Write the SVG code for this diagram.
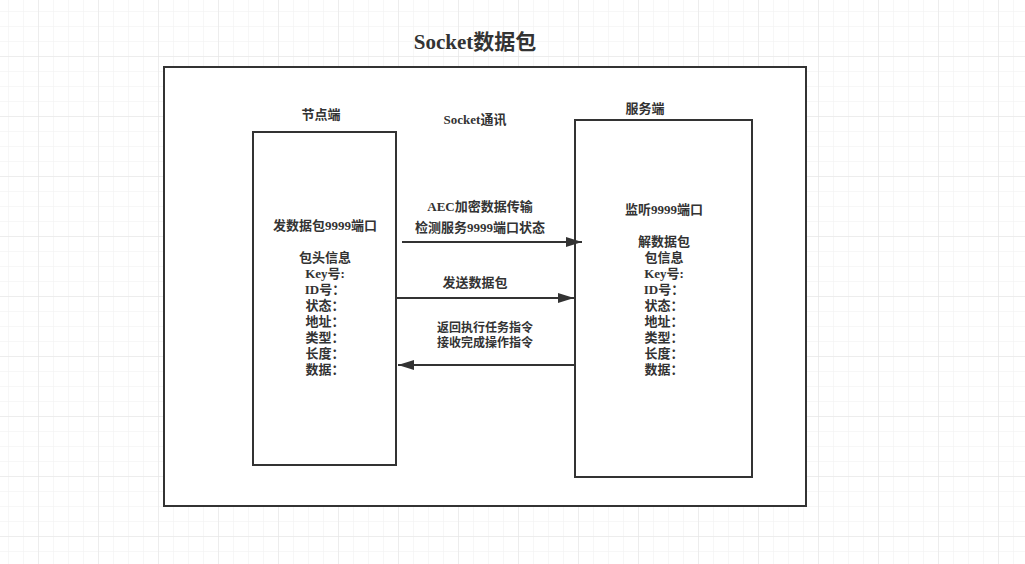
<svg xmlns="http://www.w3.org/2000/svg" width="1025" height="564" viewBox="0 0 1025 564">
<defs>
<pattern id="minor" x="8" y="11" width="15" height="15" patternUnits="userSpaceOnUse">
<path d="M0 0H15M0 0V15" fill="none" stroke="#f0f0f0" stroke-width="1"/>
</pattern>
<pattern id="major" x="38" y="56" width="60" height="60" patternUnits="userSpaceOnUse">
<path d="M0 0H60M0 0V60" fill="none" stroke="#e4e4e4" stroke-width="1"/>
</pattern>
<marker id="ah" markerWidth="16" markerHeight="10" refX="16" refY="5" orient="auto" markerUnits="userSpaceOnUse">
<path d="M0 0L16 5L0 10Z" fill="#333"/>
</marker>
</defs>
<style>
text{font-family:"Liberation Serif","Noto Sans CJK SC",serif;font-weight:bold;fill:#333;text-anchor:middle;font-size:13px}
.box{fill:#fff;stroke:#333;stroke-width:2}
.conn{stroke:#333;stroke-width:2;fill:none}
</style>
<rect width="1025" height="564" fill="#fff"/>
<rect width="1025" height="564" fill="url(#minor)"/>
<rect width="1025" height="564" fill="url(#major)"/>
<g id="title"><text x="475" y="49" style="font-size:21px">Socket数据包</text></g>
<g id="frame"><rect class="box" x="164" y="67" width="642" height="439"/></g>
<g id="node-client">
<rect class="box" x="253" y="132" width="143" height="333"/>
<text x="321" y="119">节点端</text>
<text x="325" y="230">发数据包9999端口</text>
<text x="325" y="262">包头信息</text>
<text x="325" y="278">Key号:</text>
<text x="325" y="294">ID号：</text>
<text x="325" y="310">状态：</text>
<text x="325" y="326">地址：</text>
<text x="325" y="342">类型：</text>
<text x="325" y="358">长度：</text>
<text x="325" y="374">数据：</text>
</g>
<g id="node-server">
<rect class="box" x="575" y="120" width="177" height="357"/>
<text x="645" y="113">服务端</text>
<text x="664" y="214">监听9999端口</text>
<text x="664" y="246">解数据包</text>
<text x="664" y="262">包信息</text>
<text x="664" y="278">Key号:</text>
<text x="664" y="294">ID号：</text>
<text x="664" y="310">状态：</text>
<text x="664" y="326">地址：</text>
<text x="664" y="342">类型：</text>
<text x="664" y="358">长度：</text>
<text x="664" y="374">数据：</text>
</g>
<g id="connectors">
<line class="conn" x1="402" y1="242" x2="582" y2="242" marker-end="url(#ah)"/>
<line class="conn" x1="396" y1="298" x2="574" y2="298" marker-end="url(#ah)"/>
<line class="conn" x1="575" y1="365" x2="398" y2="365" marker-end="url(#ah)"/>
<text x="475" y="124">Socket通讯</text>
<text x="480" y="211">AEC加密数据传输</text>
<text x="480" y="232">检测服务9999端口状态</text>
<text x="475" y="287">发送数据包</text>
<text x="485" y="332" style="font-size:12px">返回执行任务指令</text>
<text x="485" y="347" style="font-size:12px">接收完成操作指令</text>
</g>
</svg>
